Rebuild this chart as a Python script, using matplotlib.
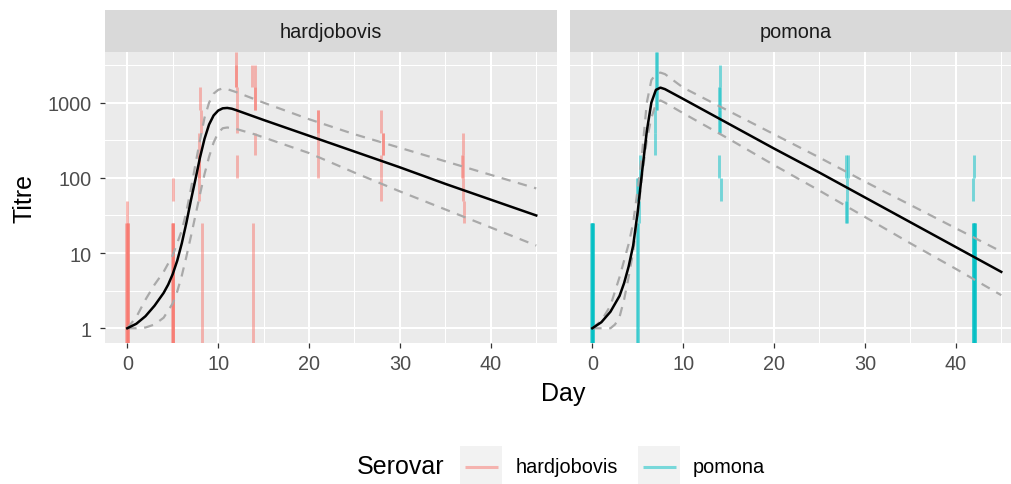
import numpy as np
import matplotlib.pyplot as plt
from matplotlib.lines import Line2D
from matplotlib.patches import Rectangle
from matplotlib.ticker import FixedLocator, NullFormatter

plt.rcParams['font.family'] = ['Liberation Sans', 'DejaVu Sans']

serovars = ['hardjobovis', 'pomona']
colours = ['#F8766D', '#00BFC4']

# observed titre intervals per animal: day (dodged), lower and upper dilution
# lower 0 = below first dilution, upper inf = above last dilution
hj_day = [-0.1, -0.05, 0.0, 0.05, 0.1, -0.05,
          4.93, 4.98, 5.02, 5.07, 5.0,
          8.2, 7.9, 7.87, 7.93, 7.9, 8.1, 8.05,
          12.0, 11.95, 12.05, 12.1, 12.1,
          13.75, 14.05, 14.0, 14.08, 14.05, 13.85,
          20.97, 21.03, 21.0, 21.0,
          27.95, 28.1, 28.14, 27.9, 27.9,
          36.95, 36.87, 36.91, 36.95, 37.05]
hj_lower = [0, 0, 0, 0, 0, 25,
            0, 0, 0, 0, 50,
            0, 50, 100, 100, 200, 400, 800,
            1600, 1600, 800, 400, 100,
            1600, 1600, 800, 800, 200, 0,
            400, 400, 200, 100,
            400, 200, 200, 100, 50,
            200, 100, 100, 50, 25]
hj_upper = [25, 25, 25, 25, 25, 50,
            25, 25, 25, 25, 100,
            25, 100, 200, 200, 400, 800, 1600,
            np.inf, 3200, 1600, 800, 200,
            3200, 3200, 1600, 1600, 400, 25,
            800, 800, 400, 200,
            800, 400, 400, 200, 100,
            400, 200, 200, 100, 50]

po_day = [-0.1, -0.06, -0.02, 0.02, 0.06, 0.1,
          4.9, 5.05, 5.1, 4.97, 5.01, 5.2,
          6.97, 7.07, 6.95, 6.85,
          14.0, 13.97, 14.03, 13.97, 14.03, 13.9, 14.2,
          27.97, 28.12, 28.08, 27.97, 28.03,
          42.05, 41.85, 41.9, 41.94, 41.98, 42.02, 42.06, 42.1]
po_lower = [0, 0, 0, 0, 0, 0,
            0, 0, 25, 50, 50, 100,
            800, 800, 400, 200,
            1600, 800, 800, 400, 400, 100, 50,
            100, 100, 50, 25, 25,
            100, 50, 0, 0, 0, 0, 0, 0]
po_upper = [25, 25, 25, 25, 25, 25,
            25, 25, 50, 100, 100, 200,
            np.inf, np.inf, 800, 400,
            3200, 1600, 1600, 800, 800, 200, 100,
            200, 200, 100, 50, 50,
            200, 100, 25, 25, 25, 25, 25, 25]

# fitted mean titre and interval, log10 scale
hj_fit_day = [0, 1, 2, 3, 4, 4.5, 5, 5.5, 6, 6.5, 7, 7.5, 8, 8.5, 9, 9.5, 10,
              10.5, 11, 11.5, 12, 15, 20, 25, 30, 35, 40, 45]
hj_fit = [0.0, 0.06, 0.16, 0.30, 0.47, 0.58, 0.72, 0.90, 1.13, 1.40, 1.70, 1.98,
          2.27, 2.52, 2.71, 2.83, 2.895, 2.925, 2.93, 2.92, 2.90, 2.77, 2.56,
          2.35, 2.14, 1.92, 1.71, 1.50]
hj_upr_day = [0, 1, 2, 3, 4, 5, 6, 6.5, 7, 7.5, 8, 8.5, 9, 9.5, 10, 10.5, 11,
              12, 15, 20, 25, 30, 35, 40, 45]
hj_upr = [0.0, 0.15, 0.38, 0.58, 0.75, 0.97, 1.30, 1.55, 1.85, 2.18, 2.50, 2.80,
          3.00, 3.12, 3.17, 3.19, 3.18, 3.14, 3.00, 2.78, 2.58, 2.40, 2.22, 2.04,
          1.86]
hj_lwr_day = [0, 1, 2, 3, 4, 5, 5.5, 6, 6.5, 7, 7.5, 8, 8.5, 9, 9.5, 10, 10.5,
              11, 12, 14, 20, 25, 30, 35, 40, 45]
hj_lwr = [0.0, 0.0, 0.01, 0.05, 0.14, 0.33, 0.49, 0.70, 0.95, 1.22, 1.50, 1.78,
          2.05, 2.28, 2.47, 2.60, 2.66, 2.67, 2.65, 2.58, 2.33, 2.07, 1.82, 1.58,
          1.34, 1.10]

po_fit_day = [0, 1, 2, 3, 3.5, 4, 4.5, 5, 5.5, 6, 6.5, 7, 7.5, 8, 10, 15, 20,
              25, 30, 35, 40, 45]
po_fit = [0.0, 0.08, 0.22, 0.43, 0.60, 0.82, 1.10, 1.55, 2.10, 2.62, 3.00, 3.17,
          3.20, 3.18, 3.05, 2.72, 2.39, 2.07, 1.74, 1.41, 1.08, 0.75]
po_upr_day = [0, 1, 2, 3, 4, 4.5, 5, 5.5, 6, 6.5, 7, 7.5, 8, 10, 15, 20, 25, 30,
              35, 40, 45]
po_upr = [0.0, 0.10, 0.30, 0.68, 1.12, 1.40, 1.85, 2.35, 3.00, 3.30, 3.38, 3.40,
          3.38, 3.20, 2.89, 2.58, 2.27, 1.95, 1.64, 1.33, 1.02]
po_lwr_day = [0, 1, 2, 2.5, 3, 3.5, 4, 4.5, 5, 5.5, 6, 6.5, 7, 7.5, 8, 10, 15,
              20, 25, 30, 35, 40, 45]
po_lwr = [0.0, 0.0, 0.0, 0.05, 0.15, 0.38, 0.68, 1.02, 1.50, 2.05, 2.50, 2.80,
          2.98, 3.03, 3.00, 2.86, 2.52, 2.17, 1.83, 1.48, 1.13, 0.79, 0.44]

y_ticks = [1, 10, 100, 1000]
x_ticks = [0, 10, 20, 30, 40]
x_limits = (-2.45, 47.25)
y_limits = (10 ** -0.2, 10 ** 3.67)

obs = [(hj_day, hj_lower, hj_upper), (po_day, po_lower, po_upper)]
fits = [((hj_fit_day, hj_fit), (hj_upr_day, hj_upr), (hj_lwr_day, hj_lwr)),
        ((po_fit_day, po_fit), (po_upr_day, po_upr), (po_lwr_day, po_lwr))]

W, H = 1011, 485
fig = plt.figure(figsize=(W / 100, H / 100), dpi=100)

panel_left = [105, 570]
panel_w = 451.7
panel_top, panel_bot = 53.3, 344.3
strip_top = 11

for i, name in enumerate(serovars):
    ax = fig.add_axes([panel_left[i] / W, 1 - panel_bot / H,
                       panel_w / W, (panel_bot - panel_top) / H])
    ax.set_facecolor('#EBEBEB')
    for s in ax.spines.values():
        s.set_visible(False)
    ax.set_yscale('log')
    ax.set_xlim(*x_limits)
    ax.set_ylim(*y_limits)

    ax.xaxis.set_major_locator(FixedLocator(x_ticks))
    ax.xaxis.set_minor_locator(FixedLocator([5, 15, 25, 35, 45]))
    ax.yaxis.set_major_locator(FixedLocator(y_ticks))
    ax.yaxis.set_minor_locator(FixedLocator([10 ** (k + 0.5) for k in range(-1, 4)]))
    ax.yaxis.set_minor_formatter(NullFormatter())
    ax.grid(which='major', color='white', lw=1.45)
    ax.grid(which='minor', color='white', lw=0.75)
    ax.set_axisbelow(True)
    ax.tick_params(which='minor', length=0)
    ax.tick_params(which='major', length=3.6, width=0.9, color='#333333',
                   labelcolor='#4D4D4D', labelsize=14.3, pad=4)
    ax.set_xticklabels([str(t) for t in x_ticks])
    if i == 0:
        ax.set_yticklabels([str(t) for t in y_ticks])
        ax.tick_params(axis='y', pad=6)
    else:
        ax.tick_params(axis='y', length=0, labelleft=False)

    d, lo, hi = obs[i]
    lo = np.clip(np.array(lo, float), y_limits[0], y_limits[1])
    hi = np.clip(np.array(hi, float), y_limits[0], y_limits[1])
    ax.vlines(d, lo, hi, colors=colours[i], alpha=0.5, lw=2.1,
              capstyle='butt', zorder=2)

    (fd, fv), (ud, uv), (ld, lv) = fits[i]
    for xd, yv in [(ud, uv), (ld, lv)]:
        ax.plot(xd, 10 ** np.array(yv), color='#A9A9A9', lw=1.6,
                dashes=(4.2, 3.4), zorder=3)
    ax.plot(fd, 10 ** np.array(fv), color='black', lw=1.8, zorder=4)

    # facet strip
    sax = fig.add_axes([panel_left[i] / W, 1 - panel_top / H,
                        panel_w / W, (panel_top - strip_top) / H])
    sax.set_facecolor('#D9D9D9')
    sax.set_xticks([])
    sax.set_yticks([])
    for s in sax.spines.values():
        s.set_visible(False)
    sax.text(0.5, 0.5, name, ha='center', va='center', fontsize=14.3,
             color='#1A1A1A', transform=sax.transAxes)

fig.text(24 / W, 1 - 198.8 / H, 'Titre', rotation=90, ha='center',
         va='center', fontsize=18)
fig.text(563.4 / W, 1 - 394 / H, 'Day', ha='center', va='center', fontsize=18)

# legend along the bottom
leg_y = 467.5
fig.text(357 / W, 1 - leg_y / H, 'Serovar', ha='left', va='center', fontsize=18)
key_x = [460, 638]
label_x = [515.7, 692.7]
for i, name in enumerate(serovars):
    fig.patches.append(Rectangle((key_x[i] / W, 1 - 488 / H), 41.7 / W, 41 / H,
                                 transform=fig.transFigure, facecolor='#F2F2F2',
                                 edgecolor='none'))
    fig.lines.append(Line2D([(key_x[i] + 5) / W, (key_x[i] + 37.5) / W],
                            [1 - leg_y / H, 1 - leg_y / H],
                            transform=fig.transFigure, color=colours[i],
                            alpha=0.5, lw=2.2, solid_capstyle='butt'))
    fig.text(label_x[i] / W, 1 - leg_y / H, name, ha='left', va='center',
             fontsize=14.3)

fig.savefig('out.png', dpi=100, facecolor='white')
